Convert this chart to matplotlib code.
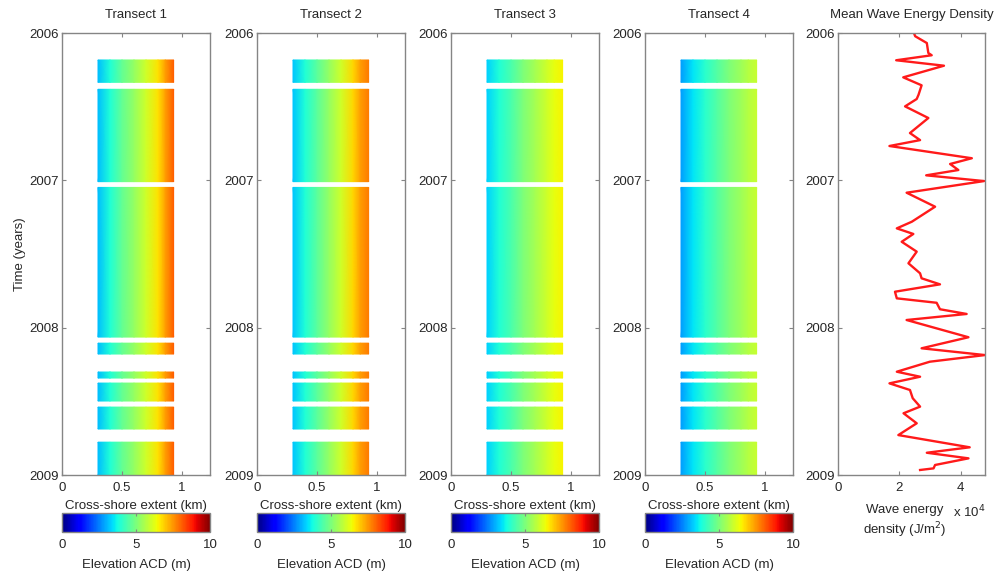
import numpy as np
import matplotlib
matplotlib.use("Agg")
import matplotlib.pyplot as plt
from matplotlib import cm, colors

plt.rcParams['font.family'] = ['Liberation Sans', 'DejaVu Sans']

# ---------------- data ----------------
transect_titles = ["Transect 1", "Transect 2", "Transect 3", "Transect 4"]
cross_shore_km = [0.30, 0.40, 0.50, 0.60, 0.70, 0.80, 0.86, 0.93]
elev_t1 = [3.1, 3.9, 4.7, 5.3, 6.0, 6.7, 7.4, 8.1]
elev_t2 = [3.2, 3.9, 4.6, 5.3, 6.0, 6.8, 7.4, 7.8]
elev_t3 = [3.3, 3.9, 4.4, 5.0, 5.5, 6.0, 6.3, 6.5]
elev_t4 = [2.8, 3.5, 4.0, 4.5, 5.0, 5.4, 5.7, 5.9]
survey_start = [2006.183, 2006.382, 2007.048, 2008.105, 2008.301, 2008.376, 2008.539, 2008.777]
survey_end = [2006.335, 2007.009, 2008.064, 2008.179, 2008.342, 2008.498, 2008.688, 2009.000]

wave_year = [2006.000, 2006.022, 2006.068, 2006.136, 2006.151, 2006.185, 2006.222, 2006.301,
             2006.355, 2006.419, 2006.448, 2006.498, 2006.577, 2006.679, 2006.727, 2006.767,
             2006.850, 2006.889, 2006.930, 2006.966, 2007.005, 2007.084, 2007.179, 2007.281,
             2007.326, 2007.364, 2007.417, 2007.484, 2007.563, 2007.631, 2007.665, 2007.706,
             2007.756, 2007.801, 2007.831, 2007.875, 2007.907, 2007.948, 2008.065, 2008.140,
             2008.186, 2008.231, 2008.299, 2008.333, 2008.378, 2008.423, 2008.479, 2008.536,
             2008.581, 2008.649, 2008.729, 2008.812, 2008.849, 2008.887, 2008.932, 2008.955,
             2008.966]
wave_energy_1e4 = [2.48, 2.52, 2.90, 2.95, 3.06, 1.90, 3.46, 2.13,
                   2.73, 2.63, 2.57, 2.19, 2.95, 2.35, 2.68, 1.68,
                   4.37, 3.66, 3.93, 2.88, 4.77, 2.24, 3.17, 2.41,
                   1.92, 2.46, 2.08, 2.57, 2.30, 2.68, 2.73, 3.33,
                   1.86, 1.92, 3.22, 3.33, 4.20, 2.24, 4.26, 2.73,
                   4.80, 3.00, 1.92, 2.68, 1.68, 2.35, 2.44, 2.68,
                   2.14, 2.57, 1.97, 4.30, 2.90, 4.26, 3.17, 3.12,
                   2.68]

year_ticks = [2006, 2007, 2008, 2009]
km_ticks = [0, 0.5, 1]
km_ticklabels = ["0", "0.5", "1"]
cbar_ticks = [0, 5, 10]
wave_ticks = [0, 2, 4]

# ---------------- figure ----------------
W, H = 997, 575
fig = plt.figure(figsize=(W / 100, H / 100), dpi=100)
FS = 9.5
TXT = '#262626'
SP = '#858585'

def ax_rect(left_px, top_px, w_px, h_px):
    return [left_px / W, (H - top_px - h_px) / H, w_px / W, h_px / H]

def style_axes(ax):
    for s in ax.spines.values():
        s.set_color(SP)
        s.set_linewidth(1.0)
    ax.tick_params(direction='in', length=3, width=0.8, color=SP,
                   labelsize=FS, labelcolor=TXT, top=True, right=True, pad=2)
    ax.tick_params(axis='x', pad=5)

panel_lefts = [62, 257, 451, 645]
profiles = [elev_t1, elev_t2, elev_t3, elev_t4]
norm = colors.Normalize(vmin=0, vmax=10)
cmap = plt.get_cmap('jet')

for i in range(4):
    ax = fig.add_axes(ax_rect(panel_lefts[i], 33, 148, 442))
    xs = np.array(cross_shore_km)
    prof = np.array(profiles[i])
    for s, e in zip(survey_start, survey_end):
        X, Y = np.meshgrid(xs, [s, e])
        Z = np.vstack([prof, prof])
        ax.pcolormesh(X, Y, Z, cmap=cmap, norm=norm, shading='gouraud')
    ax.set_xlim(0, 1.233)
    ax.set_ylim(2009, 2006)
    ax.set_xticks(km_ticks)
    ax.set_xticklabels(km_ticklabels)
    ax.set_yticks(year_ticks)
    ax.set_yticklabels([str(y) for y in year_ticks])
    style_axes(ax)
    ax.set_title(transect_titles[i], fontsize=FS, color=TXT, pad=11)
    ax.set_xlabel("Cross-shore extent (km)", fontsize=FS, color=TXT, labelpad=4)
    if i == 0:
        ax.set_ylabel("Time (years)", fontsize=FS, color=TXT, labelpad=3)

    cax = fig.add_axes(ax_rect(panel_lefts[i], 513, 148, 19))
    cb = fig.colorbar(cm.ScalarMappable(norm=norm, cmap=cmap), cax=cax,
                      orientation='horizontal', ticks=cbar_ticks)
    cb.outline.set_edgecolor(SP)
    cb.outline.set_linewidth(1.0)
    cax.tick_params(direction='in', length=2.5, width=0.8, color=SP,
                    labelsize=FS, labelcolor=TXT, top=True, pad=5)
    cb.set_label("Elevation ACD (m)", fontsize=FS, color=TXT, labelpad=6)

# wave energy panel
axw = fig.add_axes(ax_rect(838, 33, 147, 442))
axw.plot(wave_energy_1e4, wave_year, color='#ff1a1a', lw=1.7)
axw.set_xlim(0, 4.8)
axw.set_ylim(2009, 2006)
axw.set_xticks(wave_ticks)
axw.set_xticklabels([str(t) for t in wave_ticks])
axw.set_yticks(year_ticks)
axw.set_yticklabels([str(y) for y in year_ticks])
style_axes(axw)
axw.set_title("Mean Wave Energy Density", fontsize=FS, color=TXT, pad=11)
fig.text(905 / W, 1 - 510 / H, "Wave energy", fontsize=FS, color=TXT, ha='center', va='center')
fig.text(905 / W, 1 - 530 / H, "density (J/m$^2$)", fontsize=FS, color=TXT, ha='center', va='center')
fig.text(953 / W, 1 - 512 / H, "x 10$^4$", fontsize=FS, color=TXT, ha='left', va='center')

fig.savefig("out.png", dpi=100, facecolor='white')
